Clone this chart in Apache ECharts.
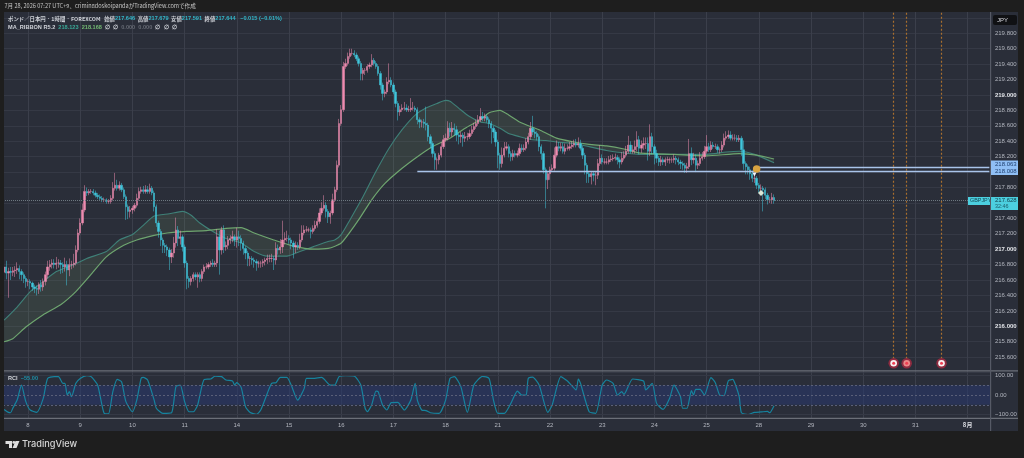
<!DOCTYPE html>
<html><head><meta charset="utf-8">
<style>html,body{margin:0;padding:0;background:#1e1e1e}#c{width:1024px;height:458px}#c canvas{filter:blur(0.35px)}</style>
<script src="https://cdn.jsdelivr.net/npm/echarts@6/dist/echarts.min.js"></script>
</head><body><div id="c"></div>
<script>
const dayLabels = ['8','9','10','11','14','15','16','17','18','21','22','23','24','25','28','29','30','31','8月'];
const priceTop = 220.2, priceBottom = 215.4;
const closes = [
216.77,216.69,216.71,216.70,216.72,216.73,216.75,216.71,216.67,216.62,
216.58,216.58,216.56,216.51,216.49,216.48,216.54,216.51,216.58,216.67,
216.77,216.80,216.82,216.80,216.82,216.82,216.80,216.77,216.80,216.73,
216.80,216.80,216.82,216.99,217.21,217.34,217.51,217.75,217.73,217.75,
217.75,217.73,217.70,217.68,217.66,217.64,217.64,217.62,217.62,217.66,
217.79,217.83,217.79,217.83,217.77,217.68,217.55,217.49,217.51,217.53,
217.57,217.66,217.75,217.77,217.75,217.77,217.75,217.79,217.73,217.55,
217.34,217.23,217.12,217.05,217.03,216.99,216.90,216.95,217.08,217.25,
217.14,217.16,217.03,216.82,216.62,216.58,216.62,216.67,216.64,216.67,
216.62,216.71,216.77,216.77,216.80,216.82,216.80,216.82,217.16,216.99,
217.25,217.03,217.05,217.12,217.14,217.16,217.12,217.16,217.14,217.08,
217.01,216.95,216.88,216.88,216.86,216.84,216.82,216.82,216.82,216.84,
216.86,216.88,216.88,216.88,216.86,217.01,216.99,217.03,217.12,217.14,
217.14,217.12,217.08,217.03,217.05,217.03,217.12,217.21,217.25,217.25,
217.25,217.23,217.27,217.31,217.36,217.47,217.53,217.57,217.49,217.42,
217.47,217.64,217.77,218.09,218.63,218.81,219.37,219.41,219.50,219.54,
219.54,219.52,219.47,219.41,219.28,219.32,219.32,219.37,219.39,219.45,
219.41,219.37,219.28,219.13,219.02,219.04,219.17,219.19,219.13,219.04,
218.89,218.78,218.81,218.83,218.83,218.81,218.81,218.83,218.83,218.81,
218.68,218.65,218.65,218.63,218.61,218.46,218.37,218.24,218.16,218.16,
218.22,218.33,218.42,218.44,218.57,218.52,218.57,218.55,218.48,218.46,
218.48,218.44,218.46,218.46,218.50,218.55,218.59,218.63,218.68,218.72,
218.70,218.72,218.68,218.63,218.57,218.52,218.39,218.22,218.11,218.22,
218.31,218.33,218.24,218.20,218.24,218.22,218.24,218.31,218.29,218.31,
218.39,218.46,218.57,218.52,218.50,218.46,218.33,218.24,218.03,217.90,
217.98,218.03,218.05,218.22,218.33,218.31,218.33,218.27,218.31,218.31,
218.33,218.35,218.37,218.35,218.37,218.31,218.22,218.09,217.98,217.94,
217.98,217.96,217.96,218.11,218.18,218.13,218.13,218.13,218.16,218.17,
218.18,218.19,218.16,218.13,218.18,218.22,218.27,218.35,218.27,218.29,
218.33,218.42,218.31,218.35,218.37,218.37,218.27,218.46,218.33,218.24,
218.18,218.13,218.16,218.13,218.16,218.16,218.16,218.16,218.18,218.16,
218.13,218.11,218.09,218.05,218.07,218.24,218.16,218.18,218.09,218.11,
218.18,218.20,218.27,218.33,218.29,218.35,218.33,218.33,218.29,218.29,
218.35,218.44,218.46,218.48,218.44,218.44,218.44,218.42,218.44,218.29,
218.11,218.07,218.03,217.98,217.92,217.92,217.83,217.79,217.79,217.77,
217.70,217.64,217.64,217.67,217.63];
const wickUp = [
6,8,5,6,5,5,8,4,3,3, 3,3,3,2,3,4,3,6,4,4, 8,6,5,5,8,5,4,3,9,5, 8,5,12,6,5,6,8,8,5,3,
3,3,3,3,3,3,3,2,3,4, 8,16,7,5,3,3,3,3,5,3, 3,6,5,4,5,6,5,6,3,3, 3,3,3,3,3,3,3,5,8,16,
5,8,3,3,3,3,3,3,3,3, 3,3,3,5,3,3,5,3,10,8, 4,6,5,5,4,8,3,12,8,4, 3,3,3,3,3,3,3,3,3,3,
3,5,5,6,3,8,5,10,25,8, 10,4,3,3,5,4,8,10,6,5, 3,3,4,6,5,6,8,13,4,3, 3,8,4,6,6,6,6,6,5,6,
6,4,3,3,3,3,3,3,3,8, 3,3,3,3,3,3,6,22,4,3, 3,3,5,5,8,5,5,13,8,3, 3,3,3,4,22,3,3,3,3,3,
3,6,6,6,9,7,8,6,5,3, 4,3,6,5,5,5,5,5,6,11, 6,4,3,3,3,3,3,3,3,10, 8,6,3,3,5,4,4,6,5,5,
5,5,8,16,4,3,3,3,3,3, 3,4,5,10,8,6,5,5,6,5, 6,5,5,6,8,5,3,3,3,3, 3,3,4,6,17,5,5,5,5,5,
5,5,3,3,8,5,7,12,5,6, 8,11,5,6,8,8,8,16,5,3, 5,3,5,3,3,4,3,3,5,3, 3,3,3,3,5,19,8,7,5,4,
8,6,7,15,5,5,4,4,3,3, 5,6,7,6,5,5,5,4,4,3, 12,3,3,4,4,3,3,3,5,3, 3,3,4,6,4];
const wickDown = [
5,8,32,10,5,8,5,10,8,6, 8,6,8,5,6,8,6,6,5,5, 5,5,5,5,6,6,12,8,6,20, 8,6,4,3,3,3,3,3,4,3,
3,3,3,3,3,3,3,3,3,3, 3,3,3,3,3,3,17,10,8,5, 4,3,3,3,3,3,3,3,3,6, 5,8,8,10,8,8,17,8,6,6,
10,8,6,6,14,8,5,4,4,14, 5,4,3,3,3,3,3,3,5,32, 6,8,5,5,5,5,8,10,10,10, 8,8,10,10,6,8,10,6,6,5,
5,5,5,5,13,6,6,5,8,6, 4,5,8,15,8,4,3,3,3,3, 3,9,3,3,3,3,3,3,8,8, 9,3,3,3,3,3,3,3,3,3,
3,3,3,4,9,9,6,3,3,3, 3,3,3,6,9,5,3,3,3,3, 5,11,5,3,3,3,3,3,3,3, 6,8,7,6,7,6,6,5,13,13,
6,3,3,3,3,6,6,8,8,10, 8,11,5,5,3,3,3,3,3,3, 4,4,4,6,20,8,6,17,8,5, 3,3,5,6,5,3,3,3,3,3,
3,3,4,4,6,5,6,8,5,37, 12,8,3,3,3,4,4,3,4,3, 3,3,3,3,3,3,5,12,12,8, 10,8,13,5,3,3,3,3,3,3,
3,3,6,8,3,3,3,3,3,3, 5,6,8,6,6,7,12,6,10,14, 6,5,5,4,5,4,5,4,4,6, 4,7,6,6,6,3,7,5,9,5,
3,3,3,3,3,3,3,3,4,5, 3,3,3,3,3,3,3,3,3,8, 8,10,6,8,5,6,5,6,5,28, 5,6,4,5,4];
const maFast = [[0,216.08],[6,216.25],[12,216.45],[18,216.58],[24,216.71],[32,216.80],[38,216.88],[47,216.97],[53,217.12],[59,217.19],[64,217.31],[69,217.43],[76,217.46],[82,217.49],[86,217.44],[90,217.34],[96,217.23],[102,217.14],[109,217.08],[115,216.97],[121,216.91],[130,216.91],[136,216.97],[142,217.03],[149,217.10],[152,217.12],[155,217.19],[159,217.38],[165,217.68],[171,218.01],[177,218.31],[183,218.55],[189,218.74],[194,218.83],[199,218.89],[203,218.93],[205,218.92],[209,218.83],[214,218.72],[219,218.65],[223,218.63],[228,218.57],[232,218.50],[237,218.46],[243,218.42],[249,218.41],[254,218.39],[262,218.37],[269,218.33],[277,218.28],[292,218.23],[308,218.23],[323,218.23],[332,218.26],[338,218.27],[345,218.23],[354,218.12]];
const maSlow = [[0,215.80],[4,215.84],[10,215.99],[18,216.15],[26,216.28],[33,216.45],[39,216.64],[47,216.90],[55,217.05],[61,217.12],[69,217.18],[75,217.21],[84,217.23],[93,217.24],[102,217.27],[109,217.28],[115,217.21],[124,217.12],[133,217.04],[142,217.00],[149,217.01],[155,217.08],[163,217.38],[169,217.64],[175,217.85],[183,218.05],[191,218.22],[197,218.33],[205,218.44],[212,218.57],[219,218.68],[223,218.77],[228,218.80],[232,218.74],[237,218.65],[243,218.58],[246,218.55],[254,218.44],[262,218.39],[269,218.36],[277,218.34],[285,218.30],[292,218.25],[308,218.23],[323,218.21],[338,218.24],[346,218.22],[354,218.17]];
const rci = [[0,-74],[2,-89],[3,-91],[4,-68],[6,-26],[8,51],[10,-34],[12,-77],[15,-89],[18,-17],[20,85],[23,94],[25,94],[27,60],[28,60],[29,0],[30,17],[31,-9],[33,60],[35,85],[38,99],[40,94],[43,51],[46,-94],[48,-97],[50,17],[52,80],[54,68],[56,-34],[59,-86],[61,-26],[63,85],[64,90],[66,77],[69,-26],[70,-68],[73,-94],[77,-91],[79,43],[81,51],[83,-34],[85,-86],[87,-86],[89,-51],[92,80],[95,82],[97,97],[100,94],[102,77],[105,72],[106,51],[107,63],[109,39],[111,-60],[113,-89],[116,-99],[118,-77],[121,8],[123,60],[125,63],[127,90],[130,90],[132,51],[135,-26],[138,34],[139,85],[142,85],[146,90],[150,51],[152,51],[154,94],[157,99],[161,97],[164,51],[166,-68],[167,-86],[169,-51],[171,20],[172,17],[174,-51],[176,-77],[178,-39],[181,-38],[184,-77],[187,-26],[189,60],[190,-26],[192,-77],[194,-80],[196,-91],[200,-94],[203,-26],[205,85],[207,94],[210,43],[213,-89],[216,51],[220,96],[223,85],[225,-26],[227,-94],[230,-94],[233,-43],[236,20],[238,0],[240,0],[241,85],[243,92],[246,51],[250,-89],[252,-51],[256,94],[259,72],[263,26],[264,82],[265,60],[269,-86],[272,-94],[275,51],[277,77],[280,60],[282,0],[284,17],[285,3],[289,82],[294,72],[295,26],[298,60],[300,-43],[303,-74],[306,-17],[308,51],[311,-9],[312,-68],[314,-68],[316,22],[317,0],[318,29],[320,29],[322,0],[325,89],[327,63],[329,0],[331,-3],[333,73],[335,80],[336,60],[338,-9],[339,-91],[342,-100],[345,-89],[348,-87],[351,-84],[352,-91],[354,-55]];
const eventBars = [409,415,431];
const eventPrice = 215.52;
const levelLines = [[190,218.008],[346,218.063]];
const lastPrice = 217.628;
const emojiMarks = [[346,218.04]];
const pinMarks = [[345,217.97]];
const starMarks = [[348,217.73]];

const N = 454, firstDay = 11, perDay = 24;
const categories = Array.from({length:N},(_,i)=>{
  const k=(i-firstDay)/perDay;
  return Number.isInteger(k)&&k>=0&&k<dayLabels.length?dayLabels[k]:'';
});
const isDay = (i)=>categories[i]!=='';
let prev = 216.70;
const candles = closes.map((c,i)=>{
  const o = prev; prev = c;
  return [o,c,+(Math.min(o,c)-wickDown[i]/100).toFixed(3),+(Math.max(o,c)+wickUp[i]/100).toFixed(3)];
});
const FF = '"Noto Sans CJK JP","Liberation Sans",sans-serif';
const NF = '"Liberation Sans",sans-serif';
const chart = echarts.init(document.getElementById('c'),null,{renderer:'canvas'});
const orange='#a96f2e', blueLine='#a9c4ea';
const vLines = eventBars.map(b=>[{coord:[b,215.58],lineStyle:{color:orange,width:1.2,type:[2,2]}},{coord:[b,priceTop]}]);
const lv = levelLines.map(l=>[{coord:[l[0],l[1]],lineStyle:{color:blueLine,width:1.3,type:'solid'}},{coord:[N-1,l[1]]}]);
const rect=(x,y,w,h,fill,z,r)=>({type:'rect',shape:{x,y,width:w,height:h,r:r||0},style:{fill},z,silent:true});
const txt=(x,y,t,fill,size,z,extra)=>({type:'text',x,y,style:Object.assign({text:t,fill,font:size+'px '+NF,textVerticalAlign:'middle'},extra||{}),z,silent:true});
const option={
  animation:false,
  backgroundColor:'#1e1e1e',
  title:[
    {text:'7月 28, 2026 07:27 UTC+9、crimin8doskoipandaがTradingView.comで作成',left:4.5,top:3.5,padding:0,z:60,textStyle:{color:'#c4c4c4',fontSize:5.6,fontWeight:'normal',fontFamily:FF}},
    {text:'{w|ポンド／日本円 · 1時間 · FOREXCOM   始値}{c|217.646}{w|  高値}{c|217.679}{w|  安値}{c|217.591}{w|  終値}{c|217.644}{c|   −0.015 (−0.01%)}',left:8,top:15.5,padding:0,z:60,
      textStyle:{fontSize:5.4,fontFamily:FF,rich:{w:{color:'#cfd2d8',fontSize:5.4,fontFamily:FF},c:{color:'#33b6c9',fontSize:5.6,fontFamily:NF}}}},
    {text:'{w|MA_RIBBON R5.2}{t|  218.123}{g|  218.168}{w|  ∅  ∅}{d|  0.000  0.000}{w|  ∅  ∅  ∅}',left:8,top:24,padding:0,z:60,
      textStyle:{fontSize:5.6,fontFamily:NF,rich:{w:{color:'#cfd2d8',fontSize:5.6,fontFamily:NF},t:{color:'#3aa897',fontSize:5.6,fontFamily:NF},g:{color:'#73b873',fontSize:5.6,fontFamily:NF},d:{color:'#666a74',fontSize:5.6,fontFamily:NF}}}},
    {text:'{w|RCI}{t|  −55.00}',left:8,top:375,padding:0,z:60,
      textStyle:{fontSize:5.6,fontFamily:NF,rich:{w:{color:'#cfd2d8',fontSize:5.6,fontFamily:NF},t:{color:'#1d8ea6',fontSize:5.6,fontFamily:NF}}}}
  ],
  grid:[
    {left:3,top:2.48,width:987.45,height:370.08,show:false},
    {left:3,top:371.6,width:987.45,height:46.8,show:false}
  ],
  xAxis:[
    {type:'category',gridIndex:0,data:categories,boundaryGap:true,axisLine:{show:false},axisTick:{show:false},axisLabel:{show:false},
      splitLine:{show:true,alignWithLabel:true,interval:(i)=>isDay(i),lineStyle:{color:'#3b3f4b',width:1}}},
    {type:'category',gridIndex:1,data:categories,boundaryGap:true,axisLine:{show:false},axisTick:{show:false},
      axisLabel:{show:true,interval:(i)=>isDay(i),margin:3.5,color:'#b2b5be',fontSize:6,fontFamily:NF,hideOverlap:false,
        formatter:(v)=>v==='8月'?'{b|8月}':v,rich:{b:{fontWeight:'bold',color:'#d8dae0',fontSize:6,fontFamily:FF}}},
      splitLine:{show:true,alignWithLabel:true,interval:(i)=>isDay(i),lineStyle:{color:'#3b3f4b',width:1}}}
  ],
  yAxis:[
    {type:'value',gridIndex:0,position:'right',min:priceBottom,max:priceTop,interval:0.2,axisLine:{show:false},axisTick:{show:false},
      splitLine:{show:true,lineStyle:{color:'#353945',width:1}},
      axisLabel:{margin:4.5,color:'#b2b5be',fontSize:6,fontFamily:NF,
        formatter:(v)=>{ if(v<215.5||v>219.9) return ''; const s=v.toFixed(3); return Math.abs(v-Math.round(v))<1e-6?'{b|'+s+'}':s;},
        rich:{b:{fontWeight:'bold',color:'#e4e6ea',fontSize:6,fontFamily:NF}}}},
    {type:'value',gridIndex:1,position:'right',min:-120,max:120,interval:20,axisLine:{show:false},axisTick:{show:false},splitLine:{show:false},
      axisLabel:{margin:4.5,color:'#b2b5be',fontSize:6,fontFamily:NF,
        formatter:(v)=>{ const r=Math.round(v); return r===100?'100.00':r===0?'0.00':r===-100?'−100.00':'';}}}
  ],
  series:[
    {type:'custom',name:'ribbon',xAxisIndex:0,yAxisIndex:0,z:1,clip:true,silent:true,data:[[0,216]],
      renderItem:(p,api)=>{
        const pts=maFast.concat(maSlow.slice().reverse()).map(d=>api.coord(d));
        return {type:'polygon',shape:{points:pts},style:{fill:'rgba(130,170,110,0.14)'}};
      }},
    {type:'line',name:'MA fast',xAxisIndex:0,yAxisIndex:0,z:2,data:maFast,symbol:'none',smooth:0.2,lineStyle:{color:'#3f8078',width:1.1},silent:true},
    {type:'line',name:'MA slow',xAxisIndex:0,yAxisIndex:0,z:2,data:maSlow,symbol:'none',smooth:0.2,lineStyle:{color:'#6ea56f',width:1.2},silent:true},
    {type:'candlestick',name:'GBPJPY',xAxisIndex:0,yAxisIndex:0,z:3,barWidth:1.8,data:candles,silent:true,
      itemStyle:{color:'#ee8bb0',color0:'#3fc6dc',borderColor:'rgba(238,139,176,0.5)',borderColor0:'rgba(63,198,220,0.5)',borderWidth:1},
      markLine:{silent:true,symbol:'none',animation:false,label:{show:false},z:4,
        data:[{yAxis:lastPrice,lineStyle:{color:'#6d7880',width:1,type:[1,1]}}].concat(vLines,lv)}},
    {type:'scatter',name:'events ring',xAxisIndex:0,yAxisIndex:0,z:6,symbolSize:10.5,silent:true,itemStyle:{color:'#8e2b40',opacity:1},data:eventBars.map(b=>[b,eventPrice])},
    {type:'scatter',name:'events in',xAxisIndex:0,yAxisIndex:0,z:7,symbolSize:6.6,silent:true,itemStyle:{color:'#f7f2f2',opacity:1},data:eventBars.map((b,i)=>({value:[b,eventPrice],itemStyle:i===1?{color:'#e98a8a'}:{}}))},
    {type:'scatter',name:'events dot',xAxisIndex:0,yAxisIndex:0,z:8,symbolSize:3,silent:true,itemStyle:{color:'#ee3d52',opacity:1},data:eventBars.map(b=>[b,eventPrice])},
    {type:'scatter',name:'emoji',xAxisIndex:0,yAxisIndex:0,z:8,symbolSize:7.5,silent:true,itemStyle:{color:'#d9a441',opacity:1},data:emojiMarks},
    {type:'scatter',name:'pin',xAxisIndex:0,yAxisIndex:0,z:8,symbol:'triangle',symbolRotate:180,symbolSize:4,silent:true,itemStyle:{color:'#f4f7ff',opacity:1},data:pinMarks},
    {type:'scatter',name:'star',xAxisIndex:0,yAxisIndex:0,z:8,symbol:'diamond',symbolSize:6,silent:true,itemStyle:{color:'#dde8d6',opacity:1},data:starMarks},
    {type:'line',name:'RCI',xAxisIndex:1,yAxisIndex:1,z:3,data:rci,symbol:'none',smooth:0.2,lineStyle:{color:'#16839e',width:1.2},silent:true,
      markArea:{silent:true,itemStyle:{color:'rgba(40,56,112,0.55)'},data:[[{yAxis:50},{yAxis:-50}]]},
      markLine:{silent:true,symbol:'none',label:{show:false},
        lineStyle:{color:'#5a5f78',width:1,type:[2,2]},
        data:[{yAxis:50},{yAxis:0},{yAxis:-50},{yAxis:100,lineStyle:{color:'#353945',type:'solid'}},{yAxis:-100,lineStyle:{color:'#353945',type:'solid'}}]}}
  ],
  graphic:{elements:[
    rect(4,12,1014,419,'#2a2e39',-1),
    rect(0,0,1024,12,'#1e1e1e',50),
    rect(0,0,4,458,'#1e1e1e',50),
    rect(1018,0,6,458,'#1e1e1e',50),
    rect(0,431,1024,27,'#1e1e1e',50),
    rect(4,370.3,1014,1.1,'#6b6f78',51),
    rect(4,417.8,1014,1.1,'#6b6f78',51),
    rect(990,12,1.2,419,'#565a66',51),
    rect(993,15,24,10,'#101114',52,2),
    txt(997,20.3,'JPY','#d8dae0',6,53),
    rect(991,160.5,27,14.5,'#90bff5',52),
    txt(995,164.5,'218.063','#1f3f6e',6,53),
    txt(995,171.7,'218.008','#1f3f6e',6,53),
    rect(968,197,22,8,'#4ccfdf',52),
    txt(970,201,'GBPJPY','#144a55',5.4,53),
    rect(991,197,27,13,'#4ccfdf',52),
    txt(995,200.8,'217.628','#123e48',6,53),
    txt(995,207,'32:46','#1c5e6a',5.4,53),
    {type:'polygon',shape:{points:[[5.5,441],[12,441],[12,448],[9,448],[9,444],[5.5,444]]},style:{fill:'#dedede'},z:52,silent:true},
    {type:'circle',shape:{cx:13.8,cy:442.4,r:1.4},style:{fill:'#dedede'},z:52,silent:true},
    {type:'polygon',shape:{points:[[15.5,441],[19.5,441],[16.5,448],[12.5,448]]},style:{fill:'#dedede'},z:52,silent:true},
    {type:'text',x:22,y:444.5,style:{text:'TradingView',fill:'#d6d6d6',font:'500 9.2px Inter,'+NF,textVerticalAlign:'middle'},z:52,silent:true}
  ]}
};
chart.setOption(option);
</script></body></html>
